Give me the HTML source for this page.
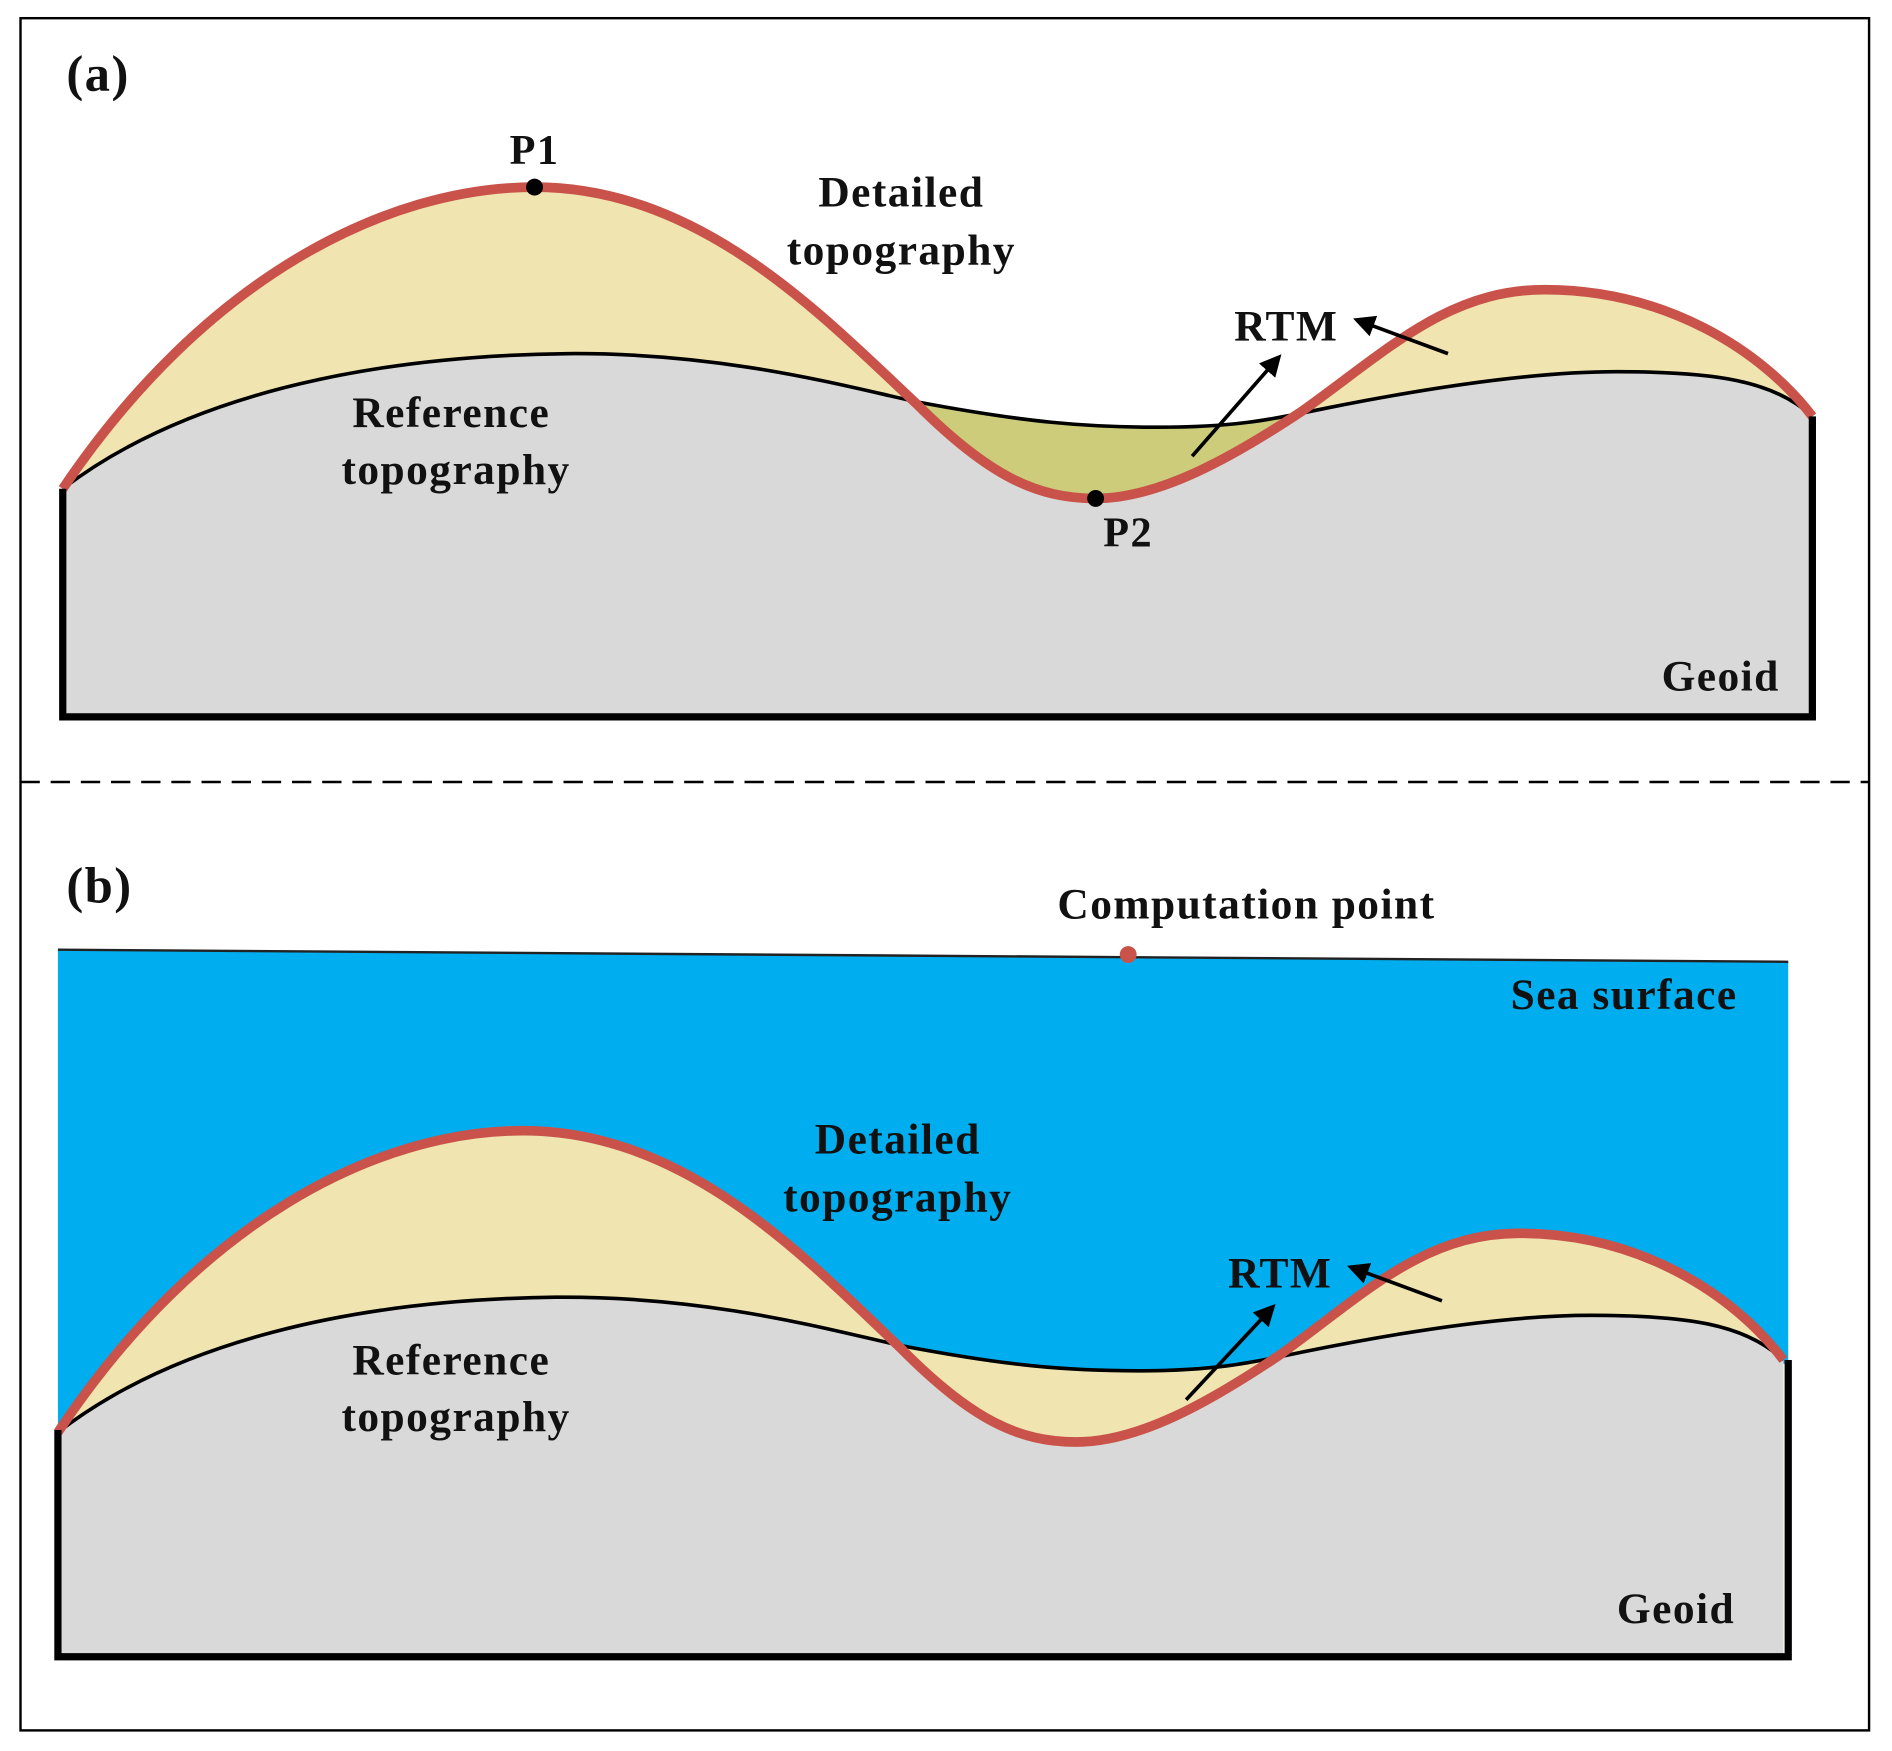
<!DOCTYPE html>
<html><head><meta charset="utf-8"><style>
html,body{margin:0;padding:0;background:#fff}
svg{display:block}
text{font-family:"Liberation Serif",serif;font-weight:bold;fill:#111;letter-spacing:1.2px}
</style></head><body>
<svg width="1892" height="1751" viewBox="0 0 1568 1451" xmlns="http://www.w3.org/2000/svg">
<defs>
<path id="detA" d="M52,405 C170,230 320,155 443,155 C580,155 680,260 760,335 C820,395 860,413 908,413 C960,413 1020,380 1080,340 C1150,290 1200,240 1280,240 C1380,240 1460,290 1502,345"/>
<path id="refA" d="M52,405 C150,330 300,295 470,293 C600,292 700,320 760,333 C850,350 900,354 960,354 C1030,354 1060,346 1100,338 C1200,318 1280,308 1340,308 C1420,308 1470,315 1502,345"/>
<path id="detAreaA" d="M52,405 C170,230 320,155 443,155 C580,155 680,260 760,335 C820,395 860,413 908,413 C960,413 1020,380 1080,340 C1150,290 1200,240 1280,240 C1380,240 1460,290 1502,345 L1502,594 L52,594 Z"/>
<path id="refAreaA" d="M52,405 C150,330 300,295 470,293 C600,292 700,320 760,333 C850,350 900,354 960,354 C1030,354 1060,346 1100,338 C1200,318 1280,308 1340,308 C1420,308 1470,315 1502,345 L1502,594 L52,594 Z"/>
<clipPath id="clipDet"><use href="#detAreaA"/></clipPath>
<marker id="ah" markerWidth="6" markerHeight="6" refX="4" refY="3" orient="auto" markerUnits="strokeWidth"><path d="M0,0 L6,3 L0,6 Z" fill="#000"/></marker>
</defs>
<rect x="17" y="15" width="1532" height="1419" fill="none" stroke="#000" stroke-width="2"/>
<line x1="17" y1="648" x2="1549" y2="648" stroke="#000" stroke-width="2" stroke-dasharray="16,9"/>

<g>
<use href="#refAreaA" fill="#cccc7a"/>
<use href="#detAreaA" fill="#f0e4b0"/>
<use href="#refAreaA" fill="#d9d9d9" clip-path="url(#clipDet)"/>
<use href="#refA" fill="none" stroke="#000" stroke-width="3"/>
<use href="#detA" fill="none" stroke="#c9534a" stroke-width="8"/>
<path d="M52,405 L52,594 L1502,594 L1502,345" fill="none" stroke="#000" stroke-width="6"/>
<circle cx="443" cy="155" r="7" fill="#000"/>
<circle cx="908" cy="413" r="7" fill="#000"/>
<line x1="988" y1="378" x2="1058" y2="298" stroke="#000" stroke-width="3" marker-end="url(#ah)"/>
<line x1="1200" y1="293" x2="1127" y2="266" stroke="#000" stroke-width="3" marker-end="url(#ah)"/>
<text x="55" y="75" font-size="42">(a)</text>
<text x="443" y="136" font-size="35" text-anchor="middle">P1</text>
<text x="935" y="453" font-size="35" text-anchor="middle">P2</text>
<text x="747" y="171" font-size="36" text-anchor="middle">Detailed</text>
<text x="747" y="219" font-size="36" text-anchor="middle">topography</text>
<text x="374" y="354" font-size="36" text-anchor="middle">Reference</text>
<text x="378" y="401" font-size="36" text-anchor="middle">topography</text>
<text x="1066" y="282" font-size="36" text-anchor="middle">RTM</text>
<text x="1475" y="572" font-size="36" text-anchor="end">Geoid</text>
</g>

<g>
<polygon points="48,787 1482,797 1482,1130 48,1185" fill="#00aeef"/>
<line x1="48" y1="787" x2="1482" y2="797" stroke="#222" stroke-width="2"/>
<g transform="translate(48,782) scale(0.9862,1) translate(-52,0)">
<use href="#refAreaA" fill="#f0e4b0"/>
<use href="#detAreaA" fill="#f0e4b0"/>
<use href="#refAreaA" fill="#d9d9d9" clip-path="url(#clipDet)"/>
<use href="#refA" fill="none" stroke="#000" stroke-width="3"/>
<use href="#detA" fill="none" stroke="#c9534a" stroke-width="8"/>
</g>
<path d="M48,1185 L48,1373 L1482,1373 L1482,1127" fill="none" stroke="#000" stroke-width="6"/>
<circle cx="935" cy="791" r="7" fill="#c9534a"/>
<line x1="983" y1="1160" x2="1053" y2="1085" stroke="#000" stroke-width="3" marker-end="url(#ah)"/>
<line x1="1195" y1="1078" x2="1122" y2="1051" stroke="#000" stroke-width="3" marker-end="url(#ah)"/>
<text x="55" y="748" font-size="42">(b)</text>
<text x="1033" y="761" font-size="36" text-anchor="middle">Computation point</text>
<text x="1440" y="836" font-size="36" text-anchor="end">Sea surface</text>
<text x="744" y="956" font-size="36" text-anchor="middle">Detailed</text>
<text x="744" y="1004" font-size="36" text-anchor="middle">topography</text>
<text x="374" y="1139" font-size="36" text-anchor="middle">Reference</text>
<text x="378" y="1186" font-size="36" text-anchor="middle">topography</text>
<text x="1061" y="1067" font-size="36" text-anchor="middle">RTM</text>
<text x="1438" y="1345" font-size="36" text-anchor="end">Geoid</text>
</g>
</svg>
</body></html>
